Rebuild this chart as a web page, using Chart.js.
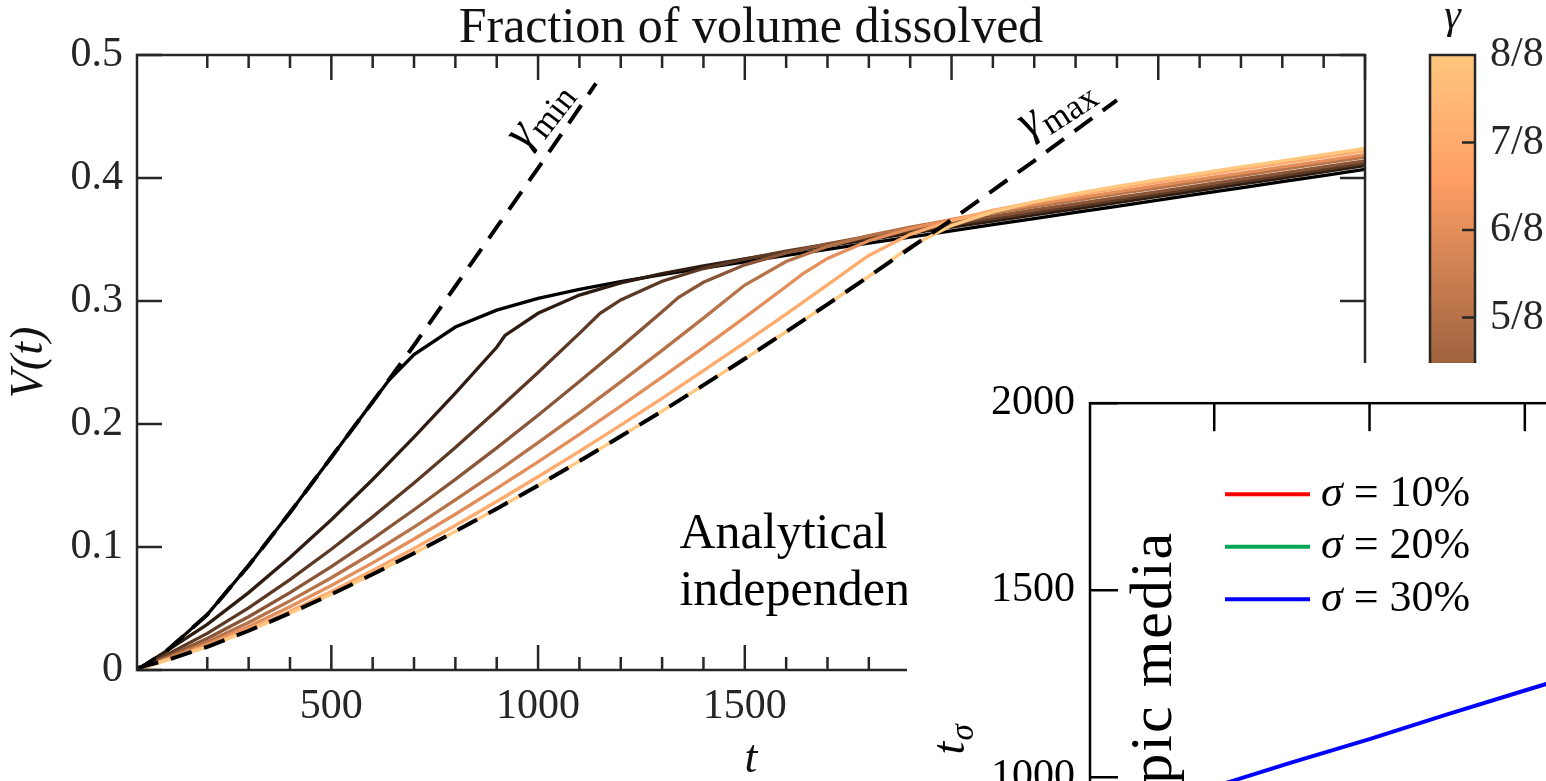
<!DOCTYPE html>
<html>
<head>
<meta charset="utf-8">
<title>Fraction of volume dissolved</title>
<script src="https://cdn.jsdelivr.net/npm/chart.js@4.4.1/dist/chart.umd.min.js"></script>
<style>
  html, body { margin: 0; padding: 0; background: #fff; overflow: hidden; width: 1546px; height: 781px; }
  canvas { position: absolute; }
  #volChart { left: 0; top: 0; }
  #barChart { left: 1400px; top: 0; }
  #insetChart { left: 907px; top: 363px; background: #fff; }
</style>
</head>
<body>
<canvas id="volChart" width="1546" height="781"></canvas>
<canvas id="barChart" width="146" height="781"></canvas>
<canvas id="insetChart" width="800" height="600"></canvas>
<script>
// main panel: V(t) for each gamma
const tGrid = [30, 100, 200, 300, 400, 500, 600, 700, 800, 900, 1000, 1100, 1200, 1300, 1400, 1500,
  1600, 1700, 1800, 1900, 2000, 2100, 2200, 2300, 2400, 2500, 2600, 2700, 2800, 2900, 3000];
const gammaLabels = ['1/8', '2/8', '3/8', '4/8', '5/8', '6/8', '7/8', '8/8'];

const V1 = [0, 0.015, 0.045, 0.085, 0.128, 0.173, 0.218, 0.2565, 0.2788, 0.2926, 0.3022, 0.3095, 0.3157, 0.3214, 0.3267, 0.3318, 0.337, 0.342, 0.347, 0.352, 0.357, 0.362, 0.367, 0.372, 0.377, 0.382, 0.387, 0.392, 0.397, 0.402, 0.407];
const V2 = [0, 0.0151, 0.0371, 0.0629, 0.0914, 0.1222, 0.1549, 0.1893, 0.2251, 0.2624, 0.290, 0.3048, 0.3147, 0.3223, 0.3286, 0.3343, 0.3397, 0.3449, 0.350, 0.355, 0.360, 0.365, 0.370, 0.375, 0.380, 0.385, 0.390, 0.395, 0.400, 0.405, 0.410];
const V3 = [0, 0.0121, 0.0298, 0.0505, 0.0735, 0.0982, 0.1245, 0.1521, 0.1809, 0.2109, 0.2418, 0.2737, 0.3009, 0.3161, 0.3264, 0.3341, 0.3405, 0.3462, 0.3516, 0.3568, 0.362, 0.367, 0.372, 0.377, 0.382, 0.387, 0.392, 0.397, 0.402, 0.407, 0.412];
const V4 = [0, 0.0104, 0.0256, 0.0433, 0.0629, 0.0841, 0.1066, 0.1303, 0.155, 0.1806, 0.2071, 0.2345, 0.2625, 0.2913, 0.3152, 0.3294, 0.3391, 0.3465, 0.3527, 0.3583, 0.3637, 0.3688, 0.374, 0.379, 0.384, 0.389, 0.394, 0.399, 0.404, 0.409, 0.414];
const V5 = [0, 0.0093, 0.0228, 0.0386, 0.0562, 0.075, 0.0951, 0.1162, 0.1383, 0.1611, 0.1848, 0.2091, 0.2342, 0.2599, 0.2861, 0.313, 0.3321, 0.3444, 0.3531, 0.360, 0.366, 0.3715, 0.3767, 0.3819, 0.387, 0.392, 0.397, 0.402, 0.407, 0.412, 0.417];
const V6 = [0, 0.0085, 0.0209, 0.0354, 0.0514, 0.0687, 0.0871, 0.1065, 0.1266, 0.1476, 0.1692, 0.1916, 0.2145, 0.2381, 0.2621, 0.2867, 0.3118, 0.3346, 0.349, 0.3589, 0.3664, 0.3727, 0.3783, 0.3836, 0.3888, 0.394, 0.399, 0.404, 0.409, 0.414, 0.419];
const V7 = [0, 0.0079, 0.0194, 0.0328, 0.0477, 0.0638, 0.0809, 0.0988, 0.1175, 0.137, 0.1571, 0.1778, 0.1991, 0.2209, 0.2433, 0.2661, 0.2894, 0.3131, 0.337, 0.3542, 0.3654, 0.3736, 0.3803, 0.3861, 0.3915, 0.3967, 0.4019, 0.407, 0.412, 0.417, 0.422];
const V8 = [0, 0.0078, 0.0189, 0.0319, 0.0462, 0.0615, 0.0778, 0.0949, 0.1127, 0.1311, 0.150, 0.1698, 0.190, 0.2105, 0.2316, 0.253, 0.275, 0.2973, 0.320, 0.3442, 0.3613, 0.3725, 0.3806, 0.3873, 0.3931, 0.3986, 0.4038, 0.409, 0.414, 0.419, 0.424];

// where each curve leaves its initial slope
const kneeT = [640, 920, 1150, 1340, 1500, 1640, 1770, 1890];
const kneeV = [0.236, 0.272, 0.290, 0.303, 0.313, 0.322, 0.330, 0.342];

// dashed limits
const tMin = [30, 100, 200, 300, 400, 500, 600, 700, 800, 900, 1000, 1100, 1140];
const VMin = [0, 0.015, 0.045, 0.085, 0.128, 0.173, 0.218, 0.264, 0.312, 0.360, 0.408, 0.457, 0.477];
const tMax = [30, 100, 200, 300, 400, 500, 600, 700, 800, 900, 1000, 1100, 1200, 1300, 1400, 1500,
  1600, 1700, 1800, 1900, 2000, 2100, 2200, 2300, 2400];
const VMax = [0.0016, 0.0078, 0.0189, 0.0319, 0.0462, 0.0615, 0.0778, 0.0949, 0.1127, 0.1311, 0.150, 0.1698, 0.190, 0.2105, 0.2316, 0.253, 0.275, 0.2973, 0.320, 0.3431, 0.366, 0.390, 0.414, 0.4387, 0.4633];

// colorbar range
const gammaMin = 1 / 8;
const gammaMax = 1;

// inset: t_sigma
const sigmaLabels = ['σ = 10%', 'σ = 20%', 'σ = 30%'];
const sigmaColors = ['#ff0000', '#00a651', '#0000ff'];
const sigmaX = [0.5, 1.0, 1.5, 2.0, 2.5, 3.0, 3.5];
const tSigma10 = [];
const tSigma20 = [];
const tSigma30 = [915, 975, 1040, 1102, 1168, 1232, 1295];
const insetXTicks = [1, 2, 3];
const insetYTicks = [1000, 1500, 2000];

const SERIF = "'Liberation Serif', 'Times New Roman', serif";
Chart.defaults.font.family = SERIF;
Chart.defaults.color = '#262626';

// matlab copper
const copper = f => {
  const r = Math.round(255 * Math.min(1, 1.25 * f));
  const g = Math.round(255 * 0.7812 * f);
  const b = Math.round(255 * 0.4975 * f);
  return 'rgb(' + r + ',' + g + ',' + b + ')';
};

// grid points plus the knee, in t order
function withKnee(v, tk, vk) {
  const pts = tGrid.map((t, j) => ({x: t, y: v[j]}));
  pts.push({x: tk, y: vk});
  return pts.sort((a, b) => a.x - b.x);
}

// text with a subscript, centred on (x, y), rotated by angle (deg)
function subText(ctx, x, y, angle, main, sub, size, subItalic) {
  const subSize = Math.round(size * 0.72);
  const mainFont = 'italic ' + size + 'px ' + SERIF;
  const subFont = (subItalic ? 'italic ' : '') + subSize + 'px ' + SERIF;
  ctx.save();
  ctx.translate(x, y);
  ctx.rotate(-angle * Math.PI / 180);
  ctx.font = mainFont;
  const w1 = ctx.measureText(main).width;
  ctx.font = subFont;
  const w2 = ctx.measureText(sub).width;
  const x0 = -(w1 + w2) / 2;
  ctx.textAlign = 'left';
  ctx.textBaseline = 'alphabetic';
  ctx.fillStyle = '#000';
  ctx.font = mainFont;
  ctx.fillText(main, x0, size * 0.25);
  ctx.font = subFont;
  ctx.fillText(sub, x0 + w1 + 1, size * 0.25 + size * 0.2);
  ctx.restore();
}

// box round the plot area with inward ticks
function boxTicks(color, marks) {
  return {
    id: 'boxTicks',
    afterDatasetsDraw(chart) {
      const {ctx, chartArea: a} = chart;
      ctx.save();
      ctx.strokeStyle = color;
      ctx.lineWidth = 2.5;
      marks.forEach(m => {
        const s = chart.scales[m.scale];
        s.ticks.forEach(tk => {
          const len = m.len(tk.value);
          if (!len) return;
          const p = s.getPixelForValue(tk.value);
          ctx.beginPath();
          if (m.side === 'bottom') { ctx.moveTo(p, a.bottom); ctx.lineTo(p, a.bottom - len); }
          if (m.side === 'top') { ctx.moveTo(p, a.top); ctx.lineTo(p, a.top + len); }
          if (m.side === 'left') { ctx.moveTo(a.left, p); ctx.lineTo(a.left + len, p); }
          if (m.side === 'right') { ctx.moveTo(a.right, p); ctx.lineTo(a.right - len, p); }
          ctx.stroke();
        });
      });
      ctx.strokeRect(a.left, a.top, a.width, a.height);
      ctx.restore();
    }
  };
}

const xTickLen = v => (v % 100 ? 0 : (v % 500 ? 13 : 25));

const volNotes = {
  id: 'volNotes',
  afterDraw(chart) {
    const {ctx, scales: {x, y}} = chart;
    subText(ctx, x.getPixelForValue(1000), y.getPixelForValue(0.452), 52, 'γ', 'min', 48, false);
    subText(ctx, x.getPixelForValue(2250), y.getPixelForValue(0.458), 33, 'γ', 'max', 48, false);
    ctx.save();
    ctx.fillStyle = '#000';
    ctx.font = '50px ' + SERIF;
    ctx.textAlign = 'left';
    ctx.textBaseline = 'alphabetic';
    ctx.fillText('Analytical', x.getPixelForValue(1342), y.getPixelForValue(0.0992));
    ctx.fillText('independen', x.getPixelForValue(1342), y.getPixelForValue(0.0528));
    ctx.restore();
  }
};

const lineBase = { pointRadius: 0, tension: 0, fill: false };

const volDatasets = [
  Object.assign({ label: 'γmin', data: tMin.map((t, i) => ({x: t, y: VMin[i]})),
    borderColor: '#000', borderWidth: 4, borderDash: [22, 13], order: 0 }, lineBase),
  Object.assign({ label: 'γmax', data: tMax.map((t, i) => ({x: t, y: VMax[i]})),
    borderColor: '#000', borderWidth: 4, borderDash: [22, 13], order: 0 }, lineBase)
];
[V1, V2, V3, V4, V5, V6, V7, V8].forEach((v, i) => {
  volDatasets.push(Object.assign({
    label: 'γ = ' + gammaLabels[i],
    data: withKnee(v, kneeT[i], kneeV[i]),
    borderColor: copper(i / 7),
    borderWidth: 3.3,
    order: 8 - i
  }, lineBase));
});

const volChart = new Chart(document.getElementById('volChart'), {
  type: 'line',
  data: { datasets: volDatasets },
  options: {
    responsive: false,
    animation: false,
    events: [],
    layout: { padding: { right: 181 } },
    plugins: {
      legend: { display: false },
      tooltip: { enabled: false },
      title: {
        display: true, fullSize: false, text: 'Fraction of volume dissolved', color: '#111',
        font: { size: 50, weight: 'normal', lineHeight: 1.06 }, padding: { top: 2, bottom: 0 }
      }
    },
    scales: {
      x: {
        type: 'linear', min: 30, max: 3000,
        grid: { display: false, drawTicks: false },
        border: { display: false },
        ticks: { stepSize: 100, maxTicksLimit: 100, autoSkip: false, maxRotation: 0, padding: 12,
          font: { size: 42 }, callback: v => (v % 500 === 0 ? String(v) : '') },
        title: { display: true, text: 't', color: '#111', font: { size: 46, style: 'italic', lineHeight: 0.9 }, padding: 0 },
        afterFit: s => { s.height = 111; }
      },
      y: {
        min: 0, max: 0.5,
        grid: { display: false, drawTicks: false },
        border: { display: false },
        ticks: { stepSize: 0.1, padding: 14, font: { size: 42 }, callback: v => String(Math.round(v * 10) / 10) },
        title: { display: true, text: 'V(t)', color: '#111', font: { size: 46, style: 'italic', lineHeight: 0.9 }, padding: { top: 9, bottom: 0 } },
        afterFit: s => { s.width = 137; }
      }
    }
  },
  plugins: [boxTicks('#262626', [
    { scale: 'x', side: 'bottom', len: xTickLen },
    { scale: 'x', side: 'top', len: xTickLen },
    { scale: 'y', side: 'left', len: () => 25 },
    { scale: 'y', side: 'right', len: () => 25 }
  ]), volNotes]
});

// colorbar
function copperGradient(chart) {
  const {ctx, chartArea, scales} = chart;
  if (!chartArea) return copper(0.5);
  const g = ctx.createLinearGradient(0, scales.y.getPixelForValue(gammaMin), 0, scales.y.getPixelForValue(gammaMax));
  g.addColorStop(0, copper(0));
  g.addColorStop(0.8, copper(0.8));
  g.addColorStop(1, copper(1));
  return g;
}

const barNotes = {
  id: 'barNotes',
  afterDraw(chart) {
    const {ctx, chartArea: a} = chart;
    ctx.save();
    ctx.fillStyle = '#111';
    ctx.font = 'italic 42px ' + SERIF;
    ctx.textAlign = 'center';
    ctx.textBaseline = 'alphabetic';
    ctx.fillText('γ', (a.left + a.right) / 2, a.top - 27);
    ctx.restore();
  }
};

const barChart = new Chart(document.getElementById('barChart'), {
  type: 'bar',
  data: {
    labels: ['γ'],
    datasets: [{ data: [[gammaMin, gammaMax]], backgroundColor: c => copperGradient(c.chart),
      borderWidth: 0, barPercentage: 1, categoryPercentage: 1 }]
  },
  options: {
    responsive: false,
    animation: false,
    events: [],
    layout: { padding: { left: 30, top: 55, bottom: 113.5 } },
    plugins: { legend: { display: false }, tooltip: { enabled: false } },
    scales: {
      x: { display: false },
      y: {
        position: 'right', min: gammaMin, max: gammaMax,
        grid: { display: false, drawTicks: false },
        border: { display: false },
        ticks: { stepSize: 0.125, padding: 15, font: { size: 42 }, callback: v => Math.round(v * 8) + '/8' },
        afterFit: s => { s.width = 71; }
      }
    }
  },
  plugins: [boxTicks('#262626', [
    { scale: 'y', side: 'right', len: v => (v > gammaMin && v < gammaMax ? 13 : 0) }
  ]), barNotes]
});

// inset
const insetNotes = {
  id: 'insetNotes',
  afterDraw(chart) {
    const {ctx, chartArea: a, scales: {x, y}} = chart;
    ctx.save();
    // legend
    chart.data.datasets.forEach((ds, i) => {
      const yy = a.top + 91 + i * 52.5;
      ctx.strokeStyle = ds.borderColor;
      ctx.lineWidth = 4;
      ctx.beginPath();
      ctx.moveTo(a.left + 135, yy);
      ctx.lineTo(a.left + 220, yy);
      ctx.stroke();
      ctx.fillStyle = '#000';
      ctx.textBaseline = 'middle';
      ctx.textAlign = 'left';
      ctx.font = 'italic 44px ' + SERIF;
      const sym = ds.label.charAt(0);
      ctx.fillText(sym, a.left + 231, yy);
      const w = ctx.measureText(sym).width;
      ctx.font = '44px ' + SERIF;
      ctx.fillText(ds.label.slice(1), a.left + 231 + w, yy);
    });
    // rotated annotation
    ctx.translate(x.getPixelForValue(0.72), y.getPixelForValue(1659));
    ctx.rotate(-Math.PI / 2);
    ctx.font = '60px ' + SERIF;
    ctx.letterSpacing = '2px';
    ctx.textAlign = 'right';
    ctx.textBaseline = 'alphabetic';
    ctx.fillStyle = '#000';
    ctx.fillText('pic media', 0, 0);
    ctx.restore();
    subText(ctx, 45, y.getPixelForValue(1100), 90, 't', 'σ', 46, true);
  }
};

const insetChart = new Chart(document.getElementById('insetChart'), {
  type: 'line',
  data: {
    datasets: [tSigma10, tSigma20, tSigma30].map((v, i) => Object.assign({
      label: sigmaLabels[i],
      data: v.map((t, j) => ({x: sigmaX[j], y: t})),
      borderColor: sigmaColors[i],
      borderWidth: 4
    }, lineBase))
  },
  options: {
    responsive: false,
    animation: false,
    events: [],
    layout: { padding: { top: 39, right: 89 } },
    plugins: { legend: { display: false }, tooltip: { enabled: false } },
    scales: {
      x: {
        type: 'linear', min: 0.2, max: 3.6,
        grid: { display: false, drawTicks: false },
        border: { display: false },
        ticks: { display: false },
        afterBuildTicks: s => { s.ticks = insetXTicks.map(v => ({value: v})); },
        afterFit: s => { s.height = 73.5; }
      },
      y: {
        min: 700, max: 2000,
        grid: { display: false, drawTicks: false },
        border: { display: false },
        ticks: { padding: 15, color: '#000', font: { size: 42 }, callback: v => String(v) },
        afterBuildTicks: s => { s.ticks = insetYTicks.map(v => ({value: v})); },
        afterFit: s => { s.width = 183; }
      }
    }
  },
  plugins: [boxTicks('#000', [
    { scale: 'x', side: 'top', len: () => 28 },
    { scale: 'x', side: 'bottom', len: () => 28 },
    { scale: 'y', side: 'left', len: () => 28 },
    { scale: 'y', side: 'right', len: () => 28 }
  ]), insetNotes]
});
</script>
</body>
</html>
